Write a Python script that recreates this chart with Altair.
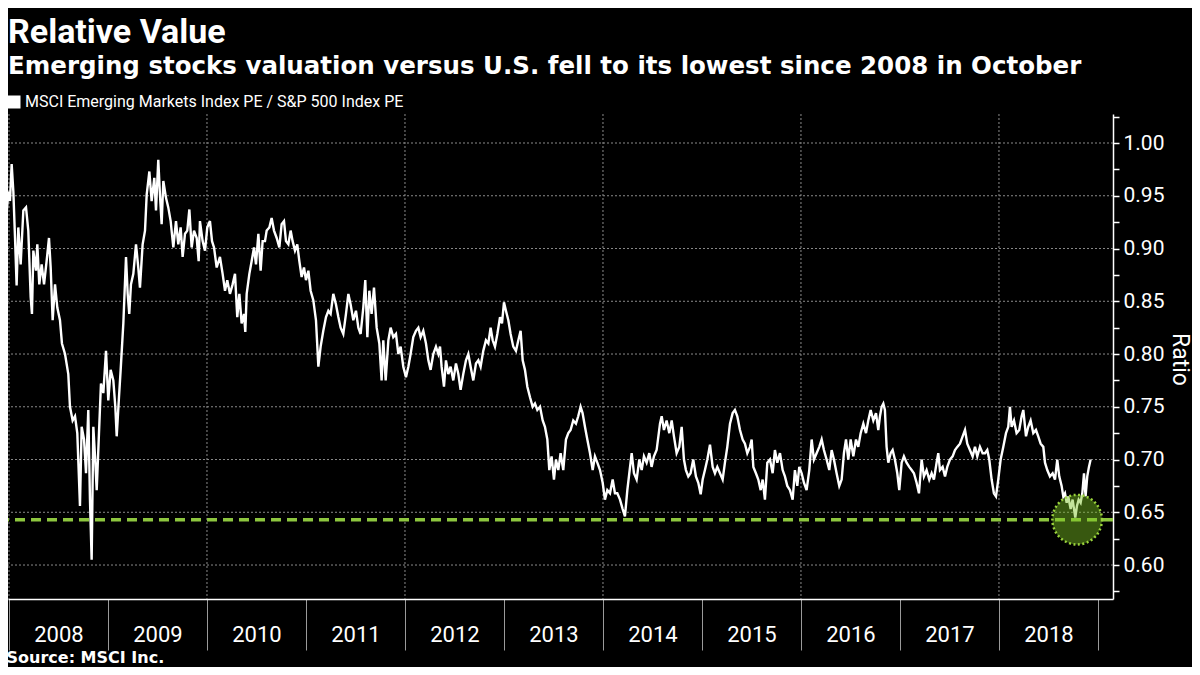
import altair as alt
import pandas as pd

# ---------------- data ----------------
years_a = [2007.909, 2007.936, 2007.949, 2007.970, 2007.993, 2008.010, 2008.027, 2008.044, 2008.061, 2008.077,
           2008.094, 2008.118, 2008.145, 2008.172, 2008.195, 2008.219, 2008.232, 2008.246, 2008.273, 2008.286,
           2008.306, 2008.330, 2008.354, 2008.380, 2008.404, 2008.421, 2008.441, 2008.465, 2008.488, 2008.515,
           2008.535, 2008.566, 2008.599, 2008.616, 2008.643, 2008.667, 2008.690, 2008.717, 2008.734, 2008.758,
           2008.778, 2008.801, 2008.818, 2008.835, 2008.852, 2008.869, 2008.886, 2008.909, 2008.929, 2008.953,
           2008.980, 2009.003, 2009.027, 2009.054, 2009.074, 2009.088, 2009.111, 2009.128, 2009.155, 2009.182,
           2009.199, 2009.215, 2009.232, 2009.256, 2009.283, 2009.306, 2009.323, 2009.350, 2009.374, 2009.391,
           2009.418, 2009.441, 2009.468, 2009.485, 2009.508, 2009.525, 2009.542, 2009.559, 2009.586, 2009.609,
           2009.633, 2009.660, 2009.687, 2009.710, 2009.734, 2009.754, 2009.778, 2009.801, 2009.822, 2009.845,
           2009.869, 2009.896, 2009.916, 2009.929, 2009.956, 2009.980, 2010.003, 2010.030, 2010.051, 2010.071,
           2010.098]
vals_a = [0.920, 0.954, 0.970, 0.926, 0.954, 0.945, 0.980, 0.954, 0.910, 0.865,
          0.920, 0.885, 0.936, 0.939, 0.917, 0.854, 0.838, 0.898, 0.879, 0.904,
          0.866, 0.885, 0.866, 0.888, 0.910, 0.882, 0.832, 0.866, 0.844, 0.832,
          0.810, 0.800, 0.781, 0.750, 0.737, 0.741, 0.725, 0.656, 0.731, 0.719,
          0.687, 0.747, 0.662, 0.605, 0.731, 0.703, 0.671, 0.725, 0.772, 0.763,
          0.803, 0.756, 0.785, 0.775, 0.750, 0.722, 0.759, 0.785, 0.829, 0.892,
          0.857, 0.838, 0.866, 0.876, 0.904, 0.882, 0.863, 0.904, 0.917, 0.951,
          0.973, 0.945, 0.967, 0.936, 0.984, 0.951, 0.923, 0.964, 0.948, 0.939,
          0.926, 0.901, 0.926, 0.904, 0.920, 0.892, 0.914, 0.917, 0.937, 0.901,
          0.917, 0.910, 0.888, 0.926, 0.907, 0.898, 0.920, 0.926, 0.907, 0.901,
          0.882]

years_b = [2010.131, 2010.158, 2010.182, 2010.205, 2010.232, 2010.259, 2010.283, 2010.306, 2010.327, 2010.350,
           2010.374, 2010.387, 2010.401, 2010.428, 2010.451, 2010.475, 2010.495, 2010.519, 2010.542, 2010.562,
           2010.586, 2010.603, 2010.630, 2010.653, 2010.677, 2010.704, 2010.731, 2010.754, 2010.778, 2010.798,
           2010.822, 2010.845, 2010.865, 2010.889, 2010.912, 2010.933, 2010.956, 2010.980, 2011.000, 2011.024,
           2011.047, 2011.074, 2011.101, 2011.125, 2011.148, 2011.175, 2011.202, 2011.226, 2011.249, 2011.276,
           2011.303, 2011.327, 2011.350, 2011.377, 2011.404, 2011.428, 2011.451, 2011.478, 2011.505, 2011.529,
           2011.552, 2011.579, 2011.599, 2011.620, 2011.640, 2011.663, 2011.687, 2011.714, 2011.741, 2011.764,
           2011.781, 2011.805, 2011.832, 2011.855, 2011.882, 2011.909, 2011.933, 2011.956, 2011.983, 2012.010,
           2012.034, 2012.057, 2012.084, 2012.111, 2012.135, 2012.158, 2012.185, 2012.212, 2012.236, 2012.259,
           2012.286, 2012.313, 2012.337]
vals_b = [0.892, 0.876, 0.860, 0.870, 0.857, 0.866, 0.876, 0.835, 0.857, 0.829,
          0.838, 0.821, 0.857, 0.876, 0.888, 0.901, 0.885, 0.914, 0.879, 0.907,
          0.907, 0.917, 0.920, 0.929, 0.917, 0.910, 0.901, 0.923, 0.926, 0.907,
          0.904, 0.917, 0.907, 0.898, 0.904, 0.888, 0.873, 0.882, 0.870, 0.879,
          0.860, 0.851, 0.832, 0.788, 0.807, 0.822, 0.835, 0.841, 0.838, 0.857,
          0.847, 0.835, 0.825, 0.819, 0.838, 0.857, 0.847, 0.832, 0.841, 0.825,
          0.819, 0.844, 0.870, 0.816, 0.860, 0.838, 0.863, 0.825, 0.810, 0.775,
          0.813, 0.775, 0.813, 0.825, 0.816, 0.819, 0.800, 0.807, 0.788, 0.778,
          0.788, 0.800, 0.816, 0.822, 0.825, 0.816, 0.822, 0.810, 0.794, 0.785,
          0.800, 0.807, 0.800]

years_c = [2012.354, 2012.370, 2012.394, 2012.414, 2012.438, 2012.461, 2012.488, 2012.515, 2012.539, 2012.562,
           2012.589, 2012.616, 2012.640, 2012.663, 2012.690, 2012.717, 2012.741, 2012.764, 2012.791, 2012.818,
           2012.842, 2012.865, 2012.886, 2012.909, 2012.933, 2012.960, 2012.980, 2013.000, 2013.020, 2013.044,
           2013.067, 2013.094, 2013.121, 2013.145, 2013.168, 2013.189, 2013.212, 2013.236, 2013.263, 2013.290,
           2013.313, 2013.337, 2013.364, 2013.391, 2013.414, 2013.438, 2013.458, 2013.481, 2013.505, 2013.525,
           2013.549, 2013.572, 2013.599, 2013.626, 2013.650, 2013.673, 2013.700, 2013.727, 2013.750, 2013.774,
           2013.794, 2013.818, 2013.842, 2013.869, 2013.896, 2013.919, 2013.943, 2013.970, 2013.997, 2014.020,
           2014.044, 2014.071, 2014.098, 2014.121, 2014.145, 2014.172, 2014.199, 2014.222, 2014.246, 2014.266,
           2014.290, 2014.313, 2014.340, 2014.367, 2014.391, 2014.414, 2014.441, 2014.468, 2014.491, 2014.515,
           2014.542]
vals_c = [0.807, 0.788, 0.769, 0.794, 0.781, 0.788, 0.775, 0.791, 0.781, 0.766,
          0.781, 0.794, 0.800, 0.788, 0.775, 0.791, 0.794, 0.788, 0.803, 0.813,
          0.810, 0.825, 0.813, 0.807, 0.819, 0.835, 0.829, 0.849, 0.841, 0.832,
          0.819, 0.807, 0.803, 0.813, 0.822, 0.794, 0.785, 0.769, 0.759, 0.750,
          0.753, 0.747, 0.750, 0.737, 0.731, 0.719, 0.690, 0.703, 0.681, 0.700,
          0.690, 0.706, 0.690, 0.719, 0.725, 0.728, 0.737, 0.734, 0.741, 0.750,
          0.744, 0.731, 0.719, 0.706, 0.690, 0.703, 0.697, 0.690, 0.678, 0.662,
          0.671, 0.668, 0.681, 0.668, 0.668, 0.662, 0.653, 0.646, 0.671, 0.687,
          0.706, 0.687, 0.681, 0.700, 0.690, 0.703, 0.697, 0.706, 0.693, 0.703,
          0.709]

years_d = [2014.576, 2014.593, 2014.616, 2014.643, 2014.670, 2014.694, 2014.717, 2014.744, 2014.771, 2014.795,
           2014.818, 2014.838, 2014.862, 2014.885, 2014.912, 2014.939, 2014.963, 2014.987, 2015.007, 2015.030,
           2015.054, 2015.081, 2015.108, 2015.131, 2015.155, 2015.182, 2015.209, 2015.232, 2015.256, 2015.283,
           2015.310, 2015.333, 2015.357, 2015.384, 2015.411, 2015.434, 2015.458, 2015.485, 2015.502, 2015.519,
           2015.545, 2015.569, 2015.593, 2015.613, 2015.636, 2015.660, 2015.687, 2015.714, 2015.737, 2015.761,
           2015.788, 2015.815, 2015.838, 2015.862, 2015.889, 2015.916, 2015.939, 2015.963, 2015.983, 2016.007,
           2016.030, 2016.057, 2016.084, 2016.108, 2016.131, 2016.158, 2016.185, 2016.209, 2016.232, 2016.259,
           2016.286, 2016.310, 2016.333, 2016.360, 2016.387, 2016.411, 2016.434, 2016.455, 2016.478, 2016.502,
           2016.529, 2016.556, 2016.579, 2016.603, 2016.630, 2016.657, 2016.680, 2016.704, 2016.731, 2016.758,
           2016.781]
vals_d = [0.734, 0.741, 0.728, 0.737, 0.725, 0.737, 0.722, 0.706, 0.712, 0.731,
          0.700, 0.690, 0.684, 0.687, 0.700, 0.684, 0.678, 0.667, 0.681, 0.690,
          0.700, 0.714, 0.693, 0.687, 0.693, 0.687, 0.681, 0.697, 0.712, 0.734,
          0.744, 0.747, 0.741, 0.728, 0.719, 0.715, 0.706, 0.712, 0.719, 0.693,
          0.687, 0.681, 0.671, 0.681, 0.662, 0.697, 0.700, 0.687, 0.709, 0.697,
          0.706, 0.690, 0.684, 0.675, 0.671, 0.662, 0.690, 0.675, 0.693, 0.687,
          0.678, 0.671, 0.690, 0.719, 0.700, 0.706, 0.712, 0.719, 0.709, 0.700,
          0.690, 0.709, 0.700, 0.687, 0.675, 0.681, 0.706, 0.719, 0.700, 0.719,
          0.703, 0.719, 0.712, 0.725, 0.734, 0.725, 0.737, 0.747, 0.737, 0.744,
          0.728]

years_e = [2016.798, 2016.815, 2016.832, 2016.848, 2016.865, 2016.882, 2016.906, 2016.926, 2016.949, 2016.973,
           2016.993, 2017.017, 2017.040, 2017.067, 2017.094, 2017.118, 2017.141, 2017.168, 2017.192, 2017.219,
           2017.242, 2017.269, 2017.296, 2017.320, 2017.343, 2017.370, 2017.387, 2017.404, 2017.431, 2017.455,
           2017.478, 2017.505, 2017.532, 2017.556, 2017.579, 2017.606, 2017.633, 2017.657, 2017.680, 2017.707,
           2017.734, 2017.758, 2017.781, 2017.808, 2017.835, 2017.859, 2017.882, 2017.902, 2017.926, 2017.949,
           2017.970, 2017.993, 2018.017, 2018.044, 2018.071, 2018.094, 2018.111, 2018.128, 2018.152, 2018.178,
           2018.205, 2018.229, 2018.246, 2018.273, 2018.296, 2018.320, 2018.347, 2018.374, 2018.397, 2018.421,
           2018.448, 2018.465, 2018.488, 2018.515, 2018.542, 2018.566, 2018.589, 2018.609, 2018.633, 2018.650,
           2018.667, 2018.684, 2018.700, 2018.724, 2018.744, 2018.771, 2018.788, 2018.805, 2018.825, 2018.842,
           2018.859, 2018.875, 2018.892, 2018.909, 2018.926]
vals_e = [0.741, 0.750, 0.753, 0.747, 0.712, 0.697, 0.706, 0.709, 0.700, 0.687,
          0.671, 0.697, 0.703, 0.697, 0.693, 0.690, 0.687, 0.678, 0.668, 0.700,
          0.684, 0.690, 0.681, 0.687, 0.681, 0.697, 0.706, 0.690, 0.693, 0.684,
          0.693, 0.700, 0.703, 0.709, 0.712, 0.715, 0.722, 0.728, 0.715, 0.709,
          0.703, 0.712, 0.703, 0.712, 0.706, 0.706, 0.709, 0.700, 0.681, 0.668,
          0.665, 0.681, 0.700, 0.712, 0.725, 0.731, 0.750, 0.731, 0.737, 0.725,
          0.728, 0.741, 0.747, 0.722, 0.731, 0.737, 0.725, 0.728, 0.722, 0.715,
          0.712, 0.697, 0.690, 0.684, 0.687, 0.681, 0.700, 0.684, 0.675, 0.665,
          0.668, 0.659, 0.665, 0.653, 0.662, 0.645, 0.656, 0.662, 0.659, 0.668,
          0.687, 0.665, 0.684, 0.693, 0.700]

series_name = "MSCI Emerging Markets Index PE / S&P 500 Index PE"
low_level = [0.643]          # lowest since 2008 (dashed line)
highlight_year = [2018.79]   # October 2018 highlight
year_ticks = list(range(2008, 2020))
grid_years = [2008, 2010, 2012, 2014, 2016, 2018]
grid_vals = [0.60, 0.65, 0.70, 0.75, 0.80, 0.85, 0.90, 0.95, 1.00]
y_ticks = [0.575, 0.600, 0.625, 0.650, 0.675, 0.700, 0.725, 0.750, 0.775, 0.800,
           0.825, 0.850, 0.875, 0.900, 0.925, 0.950, 0.975, 1.000, 1.025]

years = years_a + years_b + years_c + years_d + years_e
vals = vals_a + vals_b + vals_c + vals_d + vals_e
df = pd.DataFrame({"year": years, "ratio": vals, "series": series_name})

# ---------------- chart ----------------
FONT = "Roboto"
BOLD = "DejaVu Sans"
xs = alt.Scale(domain=[2007.99, 2019.152], nice=False, zero=False)
ys = alt.Scale(domain=[0.5678, 1.0275], nice=False, zero=False)

x_axis = alt.Axis(
    values=year_ticks, grid=False, tickSize=51, tickColor="#9a9a9a", tickWidth=1,
    domainColor="white", domainWidth=1.5,
    labelExpr="datum.value == 2019 ? '' : toString(datum.value)",
    labelOffset=49.5, labelPadding=-9, labelBaseline="alphabetic", labelAlign="center",
    labelFont=FONT, labelFontSize=22, labelColor="white",
    labelFlush=False, labelBound=False, labelOverlap=False,
    title="Source: MSCI Inc.", titleX=-2, titleY=63.5, titleAlign="left", titleAnchor="start",
    titleBaseline="alphabetic", titleFont=BOLD, titleFontSize=16, titleFontWeight="bold",
    titleColor="white",
)
y_axis = alt.Axis(
    orient="right", values=y_ticks, grid=False, tickSize=6, tickColor="white", tickWidth=1.5,
    domainColor="white", domainWidth=1.5,
    labelExpr="(round(datum.value * 1000) % 50 == 0) ? format(datum.value, '.2f') : ''",
    labelPadding=4, labelFont=FONT, labelFontSize=21, labelColor="white",
    labelAlign="left", labelBaseline="middle",
    labelFlush=False, labelBound=False, labelOverlap=False,
    title="Ratio", titleAngle=90, titleX=66, titleY=245, titleAlign="center",
    titleBaseline="middle", titleFont=FONT, titleFontSize=23, titleFontWeight="normal",
    titleColor="white",
)


def X(field="year:Q"):
    return alt.X(field, scale=xs, axis=x_axis)


def Y(field="ratio:Q"):
    return alt.Y(field, scale=ys, axis=y_axis)


vgrid = alt.Chart(pd.DataFrame({"year": grid_years})).mark_rule(
    color="#8a8a8a", strokeWidth=1, strokeDash=[2, 2]
).encode(x=X())

hgrid = alt.Chart(pd.DataFrame({"ratio": grid_vals})).mark_rule(
    color="#8a8a8a", strokeWidth=1, strokeDash=[2, 2]
).encode(y=Y())

lowline = alt.Chart(pd.DataFrame({"ratio": low_level})).mark_rule(
    color="#8dc63f", strokeWidth=3.5, strokeDash=[10, 6]
).encode(y=Y())

line = alt.Chart(df).mark_line(strokeWidth=2.4, clip=True).encode(
    x=X(),
    y=Y(),
    color=alt.Color(
        "series:N", scale=alt.Scale(range=["white"]),
        legend=alt.Legend(
            title=None, orient="none", legendX=-2, legendY=-20,
            symbolType="square", symbolSize=169, symbolFillColor="white",
            symbolStrokeColor="white", symbolStrokeWidth=0,
            labelFont=FONT, labelFontSize=16, labelColor="white", labelOffset=3,
            labelLimit=0,
        ),
    ),
)

circle = alt.Chart(pd.DataFrame({"year": highlight_year, "ratio": low_level})).mark_point(
    shape="circle", filled=True, size=2460, fill="#7cc424", fillOpacity=0.45,
    stroke="#9ad33c", strokeOpacity=1, strokeWidth=2.5, strokeDash=[2, 2.5],
).encode(x=X(), y=Y())

chart = alt.layer(vgrid, hgrid, lowline, line, circle).properties(
    width=1105,
    height=485,
    autosize=alt.AutoSizeParams(type="none"),
    padding={"left": 0, "top": 106, "right": 79, "bottom": 68},
    background="black",
    title=alt.TitleParams(
        "Relative Value",
        subtitle="Emerging stocks valuation versus U.S. fell to its lowest since 2008 in October",
        anchor="start", frame="group", font=FONT, fontSize=34, fontWeight="bold", color="white",
        subtitleFont=BOLD, subtitleFontSize=24.5, subtitleFontWeight="bold", subtitleColor="white",
        subtitlePadding=4.5, offset=16,
    ),
).configure_view(stroke=None)

chart.save("out.html", embed_options={"renderer": "svg", "actions": False})
